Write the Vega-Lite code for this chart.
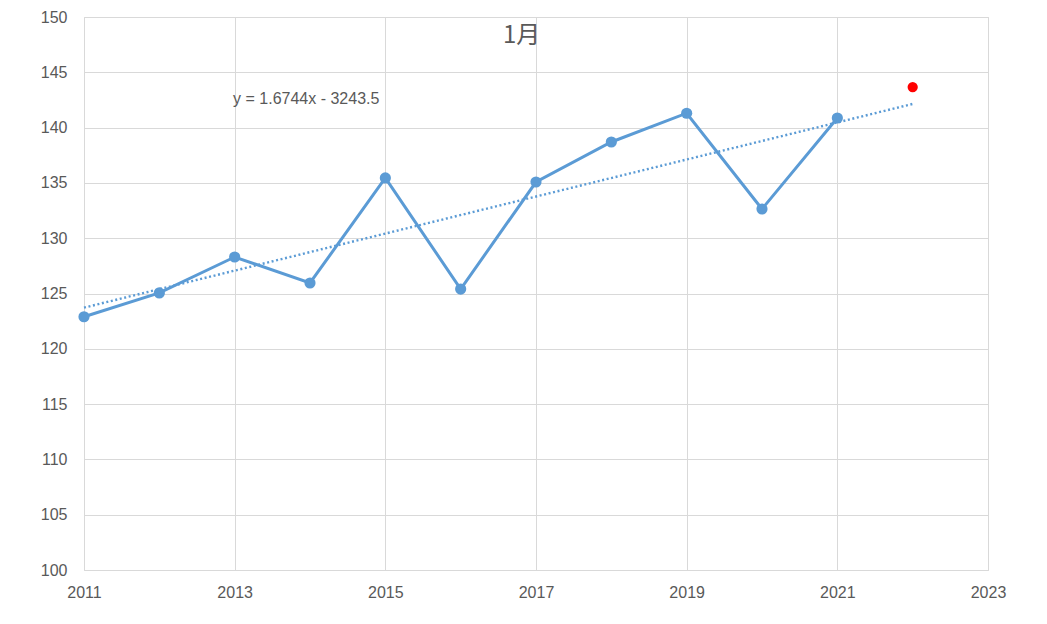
{
  "$schema": "https://vega.github.io/schema/vega-lite/v6.json",
  "width": 904,
  "height": 553,
  "autosize": {"type": "none"},
  "padding": {"left": 84, "top": 17, "right": 59, "bottom": 54},
  "background": "white",
  "config": {
    "view": {"stroke": "#d9d9d9", "strokeWidth": 1},
    "font": "Liberation Sans",
    "axis": {"labelFont": "Liberation Sans", "labelColor": "#595959", "labelFontSize": 16, "gridColor": "#d9d9d9", "gridWidth": 1, "domain": false, "ticks": false, "title": null}
  },
  "datasets": {
    "obs": [
      {"year": 2011, "value": 122.9},
      {"year": 2012, "value": 125.05},
      {"year": 2013, "value": 128.3},
      {"year": 2014, "value": 125.95},
      {"year": 2015, "value": 135.45},
      {"year": 2016, "value": 125.4},
      {"year": 2017, "value": 135.08},
      {"year": 2018, "value": 138.7},
      {"year": 2019, "value": 141.3},
      {"year": 2020, "value": 132.64},
      {"year": 2021, "value": 140.87}
    ],
    "forecast": [{"year": 2022, "value": 143.67}],
    "trend": [
      {"year": 2011, "value": 123.72},
      {"year": 2022, "value": 142.14}
    ],
    "eq": [{"year": 2013.95, "value": 142.6, "label": "y = 1.6744x - 3243.5"}],
    "ttl": [{"year": 2016.81, "value": 148.3, "label": "1月"}]
  },
  "layer": [
    {
      "data": {"name": "trend"},
      "mark": {"type": "line", "color": "#5b9bd5", "strokeWidth": 2.4, "strokeDash": [2, 2.6]},
      "encoding": {
        "x": {"field": "year", "type": "quantitative", "scale": {"domain": [2011, 2023], "nice": false, "zero": false},
              "axis": {"values": [2011, 2013, 2015, 2017, 2019, 2021, 2023], "format": "d", "labelPadding": 14, "labelFlush": false}},
        "y": {"field": "value", "type": "quantitative", "scale": {"domain": [100, 150], "nice": false, "zero": false},
              "axis": {"values": [100, 105, 110, 115, 120, 125, 130, 135, 140, 145, 150], "labelPadding": 17}}
      }
    },
    {
      "data": {"name": "obs"},
      "mark": {"type": "line", "color": "#5b9bd5", "strokeWidth": 3, "point": {"filled": true, "size": 125, "color": "#5b9bd5", "opacity": 1}},
      "encoding": {
        "x": {"field": "year", "type": "quantitative"},
        "y": {"field": "value", "type": "quantitative"}
      }
    },
    {
      "data": {"name": "forecast"},
      "mark": {"type": "point", "filled": true, "size": 105, "color": "#ff0000", "opacity": 1},
      "encoding": {
        "x": {"field": "year", "type": "quantitative"},
        "y": {"field": "value", "type": "quantitative"}
      }
    },
    {
      "data": {"name": "eq"},
      "mark": {"type": "text", "fontSize": 16, "color": "#595959", "font": "Liberation Sans"},
      "encoding": {
        "x": {"field": "year", "type": "quantitative"},
        "y": {"field": "value", "type": "quantitative"},
        "text": {"field": "label"}
      }
    },
    {
      "data": {"name": "ttl"},
      "mark": {"type": "text", "fontSize": 24, "color": "#595959", "font": "Noto Sans CJK JP"},
      "encoding": {
        "x": {"field": "year", "type": "quantitative"},
        "y": {"field": "value", "type": "quantitative"},
        "text": {"field": "label"}
      }
    }
  ]
}
